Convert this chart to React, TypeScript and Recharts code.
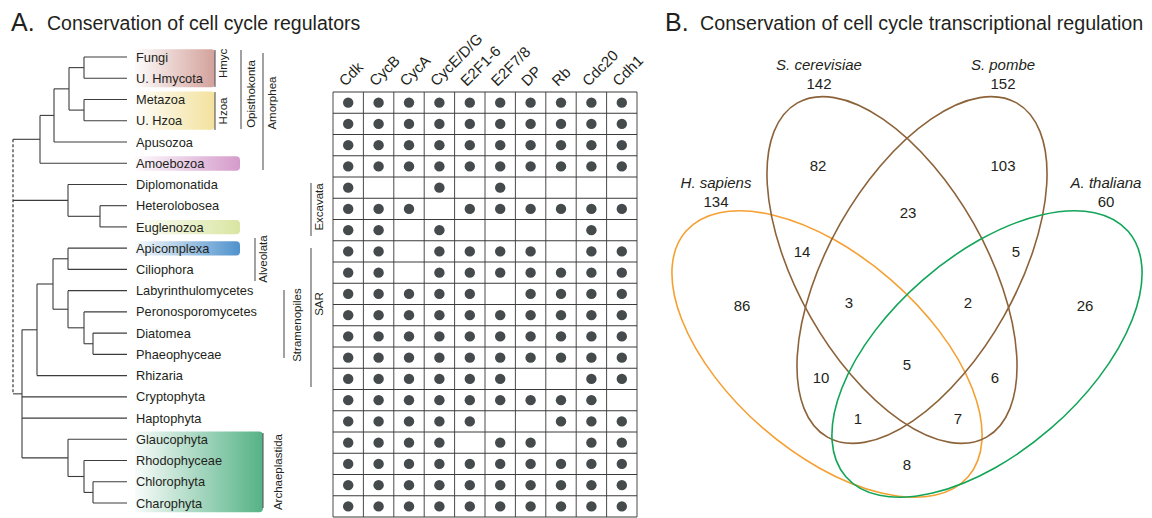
import React from "react";
import {
  ComposedChart,
  ScatterChart,
  Scatter,
  XAxis,
  YAxis,
  ReferenceLine,
  ReferenceArea,
  ReferenceDot,
} from "recharts";

const FONT = "'Liberation Sans', Arial, Helvetica, sans-serif";
const INK = "#231f20";
const BRANCH = "#3c3c3c";

// ---------- panel A: taxa, regulators, presence matrix ----------
const TAXA = [
  "Fungi", "U. Hmycota", "Metazoa", "U. Hzoa", "Apusozoa", "Amoebozoa",
  "Diplomonatida", "Heterolobosea", "Euglenozoa", "Apicomplexa", "Ciliophora",
  "Labyrinthulomycetes", "Peronosporomycetes", "Diatomea", "Phaeophyceae",
  "Rhizaria", "Cryptophyta", "Haptophyta", "Glaucophyta", "Rhodophyceae",
  "Chlorophyta", "Charophyta",
];

const REGULATORS = ["Cdk", "CycB", "CycA", "CycE/D/G", "E2F1-6", "E2F7/8", "DP", "Rb", "Cdc20", "Cdh1"];

// one string per matrix row (top to bottom), one char per regulator
const PRESENCE = [
  "1111111111",
  "1111111111",
  "1111111111",
  "1111111111",
  "1001010000",
  "1110111111",
  "1101000010",
  "1101111011",
  "1101111111",
  "1111101111",
  "1111111111",
  "1111111111",
  "1111111111",
  "1111110011",
  "1111111110",
  "1111100111",
  "1111011011",
  "1111111111",
  "1111111111",
  "1111111111",
];

// cladogram topology: leaves are taxon indexes, x is the node depth (layout)
type TreeNode = number | { x: number; kids: TreeNode[]; dashed?: boolean };
const TREE: TreeNode = {
  x: 13, dashed: true, kids: [
    { x: 40, kids: [{ x: 54, kids: [{ x: 69, kids: [{ x: 84, kids: [0, 1] }, { x: 84, kids: [2, 3] }] }, 4] }, 5] },
    { x: 68, kids: [6, { x: 100, kids: [7, 8] }] },
    {
      x: 22, kids: [
        { x: 37, kids: [{ x: 53, kids: [{ x: 68, kids: [9, 10] }, { x: 68, kids: [11, { x: 84, kids: [12, { x: 93, kids: [13, 14] }] }] }] }, 15] },
        16, 17,
        { x: 68, kids: [18, { x: 84, kids: [19, { x: 93, kids: [20, 21] }] }] },
      ],
    },
  ],
};
const LEAF_X = 127;

// shaded clades behind the labels (layout)
const CLADE_BOXES = [
  { from: 0, to: 1, right: 215, color: "#d3a19b" },
  { from: 2, to: 3, right: 215, color: "#f3e19c" },
  { from: 5, to: 5, right: 240, color: "#d59bcb" },
  { from: 8, to: 8, right: 240, color: "#d9e5a2" },
  { from: 9, to: 9, right: 240, color: "#4f92cc" },
  { from: 18, to: 21, right: 263, color: "#55b286" },
];

// group brackets: line at x from y1 to y2 (rows), label centred at tx, ty
const BRACKETS = [
  { name: "Hmyc", x: 215, y1: -0.33, y2: 1.41, tx: 223, ty: 0.3 },
  { name: "Hzoa", x: 215, y1: 1.65, y2: 3.44, tx: 223, ty: 2.54 },
  { name: "Opisthokonta", x: 241, y1: -0.33, y2: 3.39, tx: 251, ty: 1.74 },
  { name: "Amorphea", x: 263, y1: -0.19, y2: 5.32, tx: 272, ty: 2.17 },
  { name: "Excavata", x: 311, y1: 5.93, y2: 8.43, tx: 319, ty: 7.06 },
  { name: "Alveolata", x: 255, y1: 8.52, y2: 10.55, tx: 263, ty: 9.51 },
  { name: "Stramenopiles", x: 284, y1: 10.97, y2: 14.17, tx: 297, ty: 12.62 },
  { name: "SAR", x: 311, y1: 8.99, y2: 15.54, tx: 319, ty: 11.63 },
  { name: "Archaeplastida", x: 263, y1: 17.7, y2: 21.23, tx: 278, ty: 19.54 },
];

// ---------- panel B: Venn ----------
const VENN_SETS = [
  { key: "Hs", name: "H. sapiens", total: 134 },
  { key: "Sc", name: "S. cerevisiae", total: 142 },
  { key: "Sp", name: "S. pombe", total: 152 },
  { key: "At", name: "A. thaliana", total: 60 },
];
const VENN_COUNTS: Record<string, number> = {
  Hs: 86, Sc: 82, Sp: 103, At: 26,
  "Hs&Sc": 14, "Sc&Sp": 23, "Sp&At": 5, "Hs&At": 8, "Hs&Sp": 10, "Sc&At": 6,
  "Hs&Sc&Sp": 3, "Sc&Sp&At": 2, "Hs&Sp&At": 1, "Hs&Sc&At": 7,
  "Hs&Sc&Sp&At": 5,
};

// Venn layout (units are px relative to the symmetry axis)
const VENN_SHAPES: Record<string, { x: number; y: number; rx: number; ry: number; rot: number; color: string; lx: number; ly: number }> = {
  Hs: { x: -80, y: 354, rx: 187, ry: 98, rot: 41, color: "#f5a033", lx: -191, ly: 183 },
  Sc: { x: -15, y: 270, rx: 192, ry: 94, rot: 60.5, color: "#8c6239", lx: -88, ly: 65 },
  Sp: { x: 15, y: 270, rx: 192, ry: 94, rot: -60.5, color: "#8c6239", lx: 96, ly: 65 },
  At: { x: 80, y: 354, rx: 187, ry: 98, rot: -41, color: "#12a558", lx: 199, ly: 183 },
};
const VENN_LABEL_POS: Record<string, [number, number]> = {
  Hs: [-165, 306], Sc: [-89, 166], Sp: [96, 166], At: [178, 306],
  "Hs&Sc": [-105, 252], "Sc&Sp": [1, 213], "Sp&At": [109, 252], "Hs&At": [0, 465],
  "Hs&Sp": [-86, 378], "Sc&At": [88, 378],
  "Hs&Sc&Sp": [-58, 303], "Sc&Sp&At": [61, 303], "Hs&Sp&At": [-49, 419], "Hs&Sc&At": [51, 419],
  "Hs&Sc&Sp&At": [0, 365],
};

// ---------- helpers ----------
type Seg = { x1: number; y1: number; x2: number; y2: number; dashed?: boolean };
function nodeY(n: TreeNode): number {
  if (typeof n === "number") return n;
  return (nodeY(n.kids[0]) + nodeY(n.kids[n.kids.length - 1])) / 2;
}
function branches(n: TreeNode, out: Seg[] = []): Seg[] {
  if (typeof n === "number") return out;
  const ys = n.kids.map(nodeY);
  out.push({ x1: n.x, y1: ys[0], x2: n.x, y2: ys[ys.length - 1], dashed: n.dashed });
  n.kids.forEach((k, i) => {
    const kx = typeof k === "number" ? LEAF_X : k.x;
    out.push({ x1: n.x, y1: ys[i], x2: kx, y2: ys[i] });
    branches(k, out);
  });
  return out;
}

const BoxShape = (props: any) => {
  const { x, y, width, height, color, id } = props;
  const r = 4;
  const d = `M${x},${y} H${x + width - r} Q${x + width},${y} ${x + width},${y + r} V${y + height - r} Q${x + width},${y + height} ${x + width - r},${y + height} H${x} Z`;
  return (
    <g>
      <defs>
        <linearGradient id={id} x1="0" y1="0" x2="1" y2="0">
          <stop offset="0%" stopColor={color} stopOpacity={0.04} />
          <stop offset="100%" stopColor={color} stopOpacity={1} />
        </linearGradient>
      </defs>
      <path d={d} fill={`url(#${id})`} />
    </g>
  );
};

const TREE_W = 330;
const H = 518;
const ROW = 21.24;
const FIRST_ROW = 57;

function TreePanel() {
  const segs = branches(TREE);
  const tips = TAXA.map((name, i) => ({ x: LEAF_X, i, name }));
  return (
    <ComposedChart
      width={TREE_W}
      height={H}
      data={tips}
      margin={{ top: FIRST_ROW - ROW / 2, right: 0, bottom: H - (FIRST_ROW - ROW / 2 + ROW * TAXA.length), left: 0 }}
    >
      <XAxis type="number" dataKey="x" domain={[0, TREE_W]} allowDataOverflow hide />
      <YAxis
        type="number"
        dataKey="i"
        domain={[-0.5, TAXA.length - 0.5]}
        allowDataOverflow
        reversed
        mirror
        ticks={TAXA.map((_, i) => i)}
        interval={0}
        axisLine={false}
        tickLine={false}
        tick={(p: any) => (
          <text key={p.index} x={136} y={p.y} dy="0.36em" fontSize={12.8} fill={INK} fontFamily={FONT}>
            {TAXA[p.payload.value]}
          </text>
        )}
      />
      {CLADE_BOXES.map((b, i) => {
        const single = b.from === b.to;
        return (
          <ReferenceArea
            key={"box" + i}
            x1={135}
            x2={b.right}
            y1={b.from - (single ? 0.33 : 0.37)}
            y2={b.to + (single ? 0.35 : 0.43)}
            ifOverflow="visible"
            shape={(p: any) => <BoxShape {...p} color={b.color} id={"cladeGrad" + i} />}
          />
        );
      })}
      {/* leaf tips carry the data points; they are invisible, the branches end there */}
      <Scatter dataKey="i" isAnimationActive={false} shape={() => <g />} />
      {segs.map((s, i) => (
        <ReferenceLine
          key={"seg" + i}
          segment={[{ x: s.x1, y: s.y1 }, { x: s.x2, y: s.y2 }]}
          stroke={s.dashed ? "#222" : BRANCH}
          strokeWidth={1.1}
          strokeDasharray={s.dashed ? "3 2" : undefined}
          ifOverflow="visible"
        />
      ))}
      {BRACKETS.map((b) => (
        <ReferenceLine
          key={"br" + b.name}
          segment={[{ x: b.x, y: b.y1 }, { x: b.x, y: b.y2 }]}
          stroke="#555"
          strokeWidth={1.1}
          ifOverflow="visible"
        />
      ))}
      {BRACKETS.map((b) => (
        <ReferenceDot
          key={"bl" + b.name}
          x={b.tx}
          y={b.ty}
          r={0}
          ifOverflow="visible"
          shape={(p: any) => (
            <text
              x={p.cx}
              y={p.cy}
              transform={`rotate(-90 ${p.cx} ${p.cy})`}
              textAnchor="middle"
              dominantBaseline="central"
              fontSize={11.5}
              fill={INK}
              fontFamily={FONT}
            >
              {b.name}
            </text>
          )}
        />
      ))}
    </ComposedChart>
  );
}

const GRID_W = 330;
function MatrixPanel() {
  const points: { c: number; r: number }[] = [];
  PRESENCE.forEach((row, r) => row.split("").forEach((v, c) => { if (v === "1") points.push({ c, r }); }));
  const cols = REGULATORS.length;
  const rows = PRESENCE.length;
  return (
    <ScatterChart width={GRID_W} height={H} margin={{ top: 52, right: 13, bottom: 1, left: 13 }}>
      <XAxis
        type="number"
        dataKey="c"
        orientation="top"
        height={40}
        domain={[-0.5, cols - 0.5]}
        ticks={REGULATORS.map((_, i) => i)}
        interval={0}
        axisLine={false}
        tickLine={false}
        tickSize={0}
        tickMargin={5}
        tick={(p: any) => (
          <text
            key={p.index}
            x={p.x - 3}
            y={p.y}
            transform={`rotate(-45 ${p.x - 3} ${p.y})`}
            fontSize={15}
            fill={INK}
            fontFamily={FONT}
          >
            {REGULATORS[p.payload.value]}
          </text>
        )}
      />
      <YAxis type="number" dataKey="r" domain={[-0.5, rows - 0.5]} reversed hide />
      {Array.from({ length: cols + 1 }, (_, i) => (
        <ReferenceLine key={"v" + i} x={i - 0.5} stroke="#4a4a4a" strokeWidth={1} ifOverflow="visible" />
      ))}
      {Array.from({ length: rows + 1 }, (_, i) => (
        <ReferenceLine key={"h" + i} y={i - 0.5} stroke="#3a3a3a" strokeWidth={1} ifOverflow="visible" />
      ))}
      <Scatter
        data={points}
        isAnimationActive={false}
        shape={(p: any) => <circle cx={p.cx} cy={p.cy} r={5.2} fill="#454a4d" />}
      />
    </ScatterChart>
  );
}

const VENN_W = 492;
const VENN_X0 = -247;
function VennPanel() {
  const K = 1; // px per layout unit (domain span equals chart width)
  const ellipses = VENN_SETS.map((s) => ({ ...VENN_SHAPES[s.key], key: s.key }));
  const setLabels = VENN_SETS.map((s) => ({ x: VENN_SHAPES[s.key].lx, y: VENN_SHAPES[s.key].ly, name: s.name, total: s.total }));
  const regions = Object.keys(VENN_COUNTS).map((k) => ({ x: VENN_LABEL_POS[k][0], y: VENN_LABEL_POS[k][1], count: VENN_COUNTS[k] }));
  return (
    <ScatterChart width={VENN_W} height={H} margin={{ top: 0, right: 0, bottom: 0, left: 0 }}>
      <XAxis type="number" dataKey="x" domain={[VENN_X0, VENN_X0 + VENN_W]} hide />
      <YAxis type="number" dataKey="y" domain={[0, H]} reversed hide />
      <Scatter
        data={ellipses}
        isAnimationActive={false}
        shape={(p: any) => (
          <ellipse
            cx={p.cx}
            cy={p.cy}
            rx={p.payload.rx * K}
            ry={p.payload.ry * K}
            transform={`rotate(${p.payload.rot} ${p.cx} ${p.cy})`}
            fill="none"
            stroke={p.payload.color}
            strokeWidth={1.6}
          />
        )}
      />
      <Scatter
        data={setLabels}
        isAnimationActive={false}
        shape={(p: any) => (
          <g fontFamily={FONT} fontSize={15} fill={INK} textAnchor="middle">
            <text x={p.cx} y={p.cy} dy="0.35em" fontStyle="italic">{p.payload.name}</text>
            <text x={p.cx} y={p.cy + 18.5} dy="0.35em">{p.payload.total}</text>
          </g>
        )}
      />
      <Scatter
        data={regions}
        isAnimationActive={false}
        shape={(p: any) => (
          <text x={p.cx} y={p.cy} dy="0.35em" textAnchor="middle" fontFamily={FONT} fontSize={15} fill={INK}>
            {p.payload.count}
          </text>
        )}
      />
    </ScatterChart>
  );
}

export default function App() {
  return (
    <div style={{ position: "relative", width: 1152, height: H, background: "#fff", overflow: "hidden" }}>
      <style>{"body{margin:0}"}</style>
      <div style={{ position: "absolute", left: 0, top: 0 }}>
        <TreePanel />
      </div>
      <div style={{ position: "absolute", left: 320, top: 0 }}>
        <MatrixPanel />
      </div>
      <div style={{ position: "absolute", left: 660, top: 0 }}>
        <VennPanel />
      </div>
      <svg width={1152} height={60} style={{ position: "absolute", left: 0, top: 0, pointerEvents: "none" }}>
        <g fontFamily={FONT} fill={INK}>
          <text x={11} y={31} fontSize={25}>A.</text>
          <text x={47} y={30} fontSize={19.5}>Conservation of cell cycle regulators</text>
          <text x={665} y={31} fontSize={25}>B.</text>
          <text x={700} y={30} fontSize={19.7}>Conservation of cell cycle transcriptional regulation</text>
        </g>
      </svg>
    </div>
  );
}
